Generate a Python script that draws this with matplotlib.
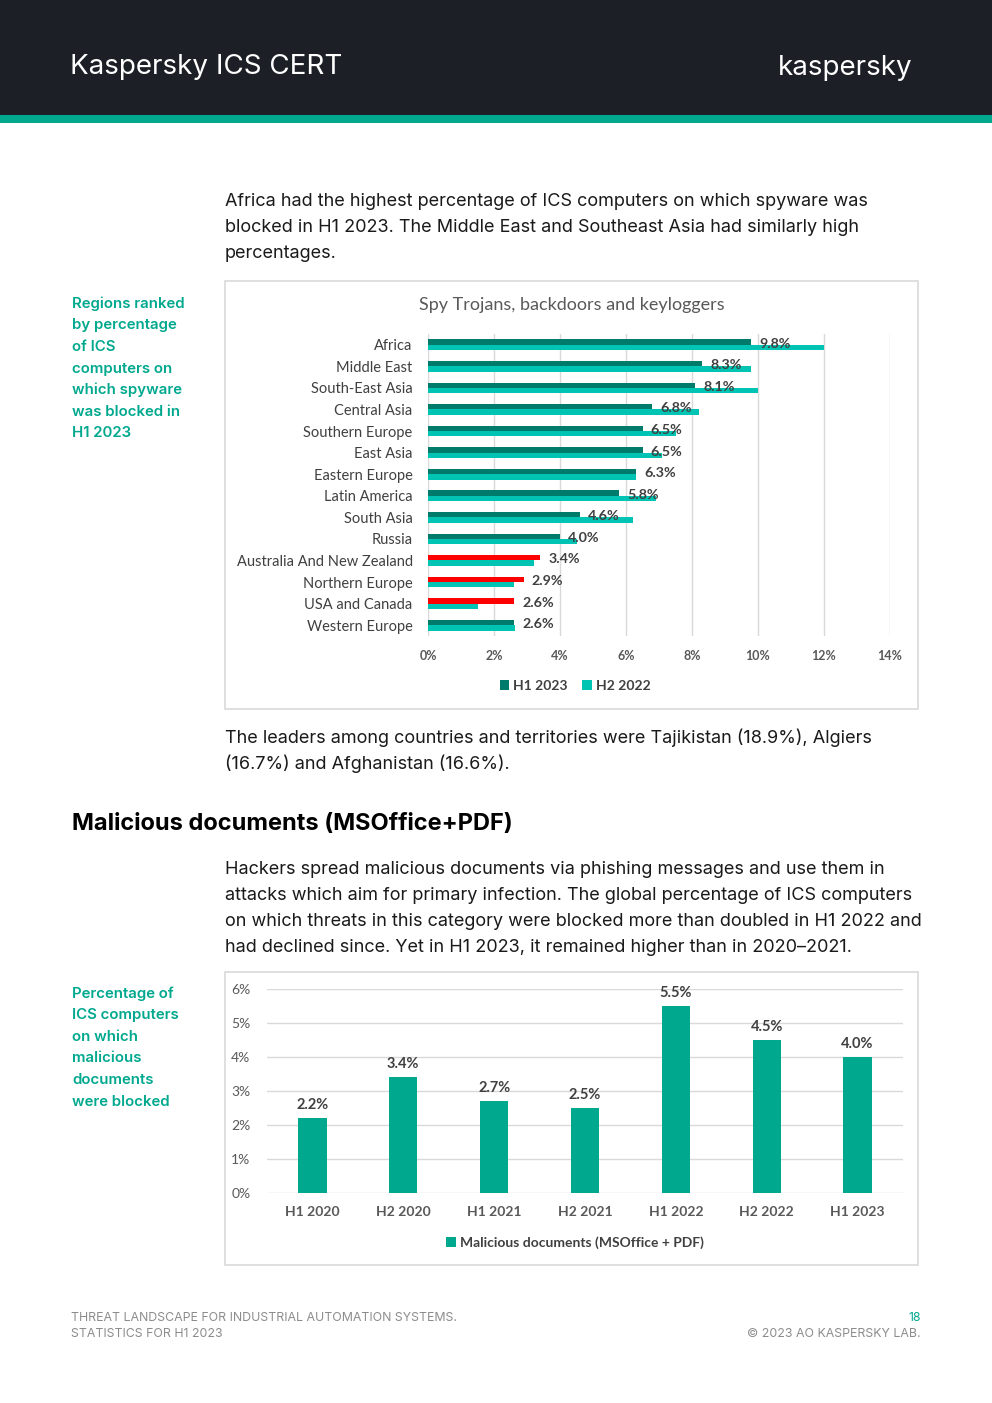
import numpy as np
import matplotlib
matplotlib.use("Agg")
import matplotlib.pyplot as plt
from matplotlib.patches import Rectangle

W, H = 992, 1403

# spyware by region, %
regions = ["Africa", "Middle East", "South-East Asia", "Central Asia", "Southern Europe",
           "East Asia", "Eastern Europe", "Latin America", "South Asia", "Russia",
           "Australia And New Zealand", "Northern Europe", "USA and Canada", "Western Europe"]
h1_2023 = [9.8, 8.3, 8.1, 6.8, 6.5, 6.5, 6.3, 5.8, 4.6, 4.0, 3.4, 2.9, 2.6, 2.6]
h2_2022 = [12.0, 9.8, 10.0, 8.2, 7.5, 7.1, 6.3, 6.9, 6.2, 4.5, 3.2, 2.6, 1.5, 2.65]
red_regions = ["Australia And New Zealand", "Northern Europe", "USA and Canada"]

# malicious documents, %
periods = ["H1 2020", "H2 2020", "H1 2021", "H2 2021", "H1 2022", "H2 2022", "H1 2023"]
docs = [2.2, 3.4, 2.7, 2.5, 5.5, 4.5, 4.0]

teal_dark = "#007A6B"
teal_light = "#00C4B3"
teal = "#00A88E"
brand = "#00A88E"
grid_c = "#d9d9d9"
lab_c = "#404040"

fig = plt.figure(figsize=(W / 100, H / 100), dpi=100)
fig.patch.set_facecolor("white")


def fx(x):
    return x / W


def fy(y):
    return 1 - y / H


def txt(x, y, s, **kw):
    kw.setdefault("va", "center")
    kw.setdefault("family", "Inter")
    fig.text(fx(x), fy(y), s, **kw)


def axes_px(left, top, right, bottom):
    return fig.add_axes([fx(left), fy(bottom), (right - left) / W, (bottom - top) / H])


# header
fig.patches.append(Rectangle((0, fy(115)), 1, 115 / H, transform=fig.transFigure,
                             facecolor="#1d1f26", edgecolor="none", zorder=0))
fig.patches.append(Rectangle((0, fy(123)), 1, 8 / H, transform=fig.transFigure,
                             facecolor=brand, edgecolor="none", zorder=0))
txt(70, 67, "Kaspersky ICS CERT", color="white", fontsize=20)
txt(913, 68, "kaspersky", color="white", fontsize=20, ha="right")

# paragraph 1
body = dict(fontsize=13, color="#1a1a1a")
txt(225, 202, "Africa had the highest percentage of ICS computers on which spyware was", **body)
txt(225, 228, "blocked in H1 2023. The Middle East and Southeast Asia had similarly high", **body)
txt(225, 254, "percentages.", **body)

side = dict(fontsize=10.8, color=brand, weight="semibold")
for i, s in enumerate(["Regions ranked", "by percentage", "of ICS", "computers on",
                       "which spyware", "was blocked in", "H1 2023"]):
    txt(72, 304 + i * 21.5, s, **side)

# chart 1 box
fig.patches.append(Rectangle((fx(225), fy(709)), 693 / W, 428 / H, transform=fig.transFigure,
                             facecolor="none", edgecolor=grid_c, lw=1.2))
txt(572, 305, "Spy Trojans, backdoors and keyloggers", family="Lato", fontsize=13,
    color="#595959", ha="center")

ax1 = axes_px(428, 334, 890, 636)
y = np.arange(len(regions))
c1 = [("#FF0000" if r in red_regions else teal_dark) for r in regions]
b1 = ax1.barh(y - 0.125, h1_2023, height=0.25, color=c1, label="H1 2023", zorder=3)
b2 = ax1.barh(y + 0.125, h2_2022, height=0.25, color=teal_light, label="H2 2022", zorder=2)
for yi, v in zip(y, h1_2023):
    ax1.text(v + 0.25, yi - 0.05, f"{v:.1f}%", va="center", ha="left", family="Lato",
             fontsize=10.3, weight="bold", color=lab_c, zorder=4)
ax1.set_xlim(0, 14)
ax1.set_ylim(13.5, -0.5)
ax1.set_xticks(np.arange(0, 15, 2))
ax1.set_xticklabels([f"{t}%" for t in range(0, 15, 2)], family="Lato", fontsize=9,
                    weight="bold", color="#595959")
ax1.set_yticks(y)
ax1.set_yticklabels(regions, family="Lato", fontsize=10.5, color=lab_c)
ax1.tick_params(length=0)
ax1.tick_params(axis="x", pad=10)
ax1.tick_params(axis="y", pad=11)
ax1.grid(axis="x", color=grid_c, lw=1, zorder=0)
for sp in ax1.spines.values():
    sp.set_visible(False)
leg1 = ax1.legend(handles=[b1[0], b2], labels=["H1 2023", "H2 2022"], loc="center",
                  bbox_to_anchor=(fx(575), fy(686)), bbox_transform=fig.transFigure,
                  ncol=2, frameon=False, handlelength=0.7, handleheight=0.7,
                  handletextpad=0.3, columnspacing=1.0,
                  prop=dict(family="Lato", size=10, weight="bold"))
for t in leg1.get_texts():
    t.set_color(lab_c)

txt(225, 738, "The leaders among countries and territories were Tajikistan (18.9%), Algiers", **body)
txt(225, 764, "(16.7%) and Afghanistan (16.6%).", **body)

txt(72, 824, "Malicious documents (MSOffice+PDF)", fontsize=17, weight="bold", color="black")

for i, s in enumerate(["Hackers spread malicious documents via phishing messages and use them in",
                       "attacks which aim for primary infection. The global percentage of ICS computers",
                       "on which threats in this category were blocked more than doubled in H1 2022 and",
                       "had declined since. Yet in H1 2023, it remained higher than in 2020\u20132021."]):
    txt(225, 870 + i * 26, s, **body)

for i, s in enumerate(["Percentage of", "ICS computers", "on which", "malicious",
                       "documents", "were blocked"]):
    txt(72, 994 + i * 21.5, s, **side)

# chart 2 box
fig.patches.append(Rectangle((fx(225), fy(1265)), 693 / W, 293 / H, transform=fig.transFigure,
                             facecolor="none", edgecolor=grid_c, lw=1.2))
ax2 = axes_px(267, 989, 903, 1193)
x = np.arange(len(periods))
b3 = ax2.bar(x, docs, width=0.31, color=teal, zorder=3)
for xi, v in zip(x, docs):
    ax2.text(xi, v + 0.18, f"{v:.1f}%", ha="center", va="bottom", family="Lato",
             fontsize=10.5, weight="bold", color=lab_c)
ax2.set_xlim(-0.5, len(periods) - 0.5)
ax2.set_ylim(0, 6)
ax2.set_yticks(range(7))
ax2.set_yticklabels([f"{t}%" for t in range(7)], family="Lato", fontsize=10, color="#595959")
ax2.set_xticks(x)
ax2.set_xticklabels(periods, family="Lato", fontsize=10, weight="bold", color="#595959")
ax2.tick_params(length=0)
ax2.tick_params(axis="x", pad=9)
ax2.tick_params(axis="y", pad=12)
ax2.grid(axis="y", color=grid_c, lw=1, zorder=0)
for sp in ax2.spines.values():
    sp.set_visible(False)
leg2 = ax2.legend(handles=[b3], labels=["Malicious documents (MSOffice + PDF)"], loc="center",
                  bbox_to_anchor=(fx(575), fy(1243)), bbox_transform=fig.transFigure,
                  frameon=False, handlelength=0.7, handleheight=0.7, handletextpad=0.3,
                  prop=dict(family="Lato", size=10, weight="bold"))
for t in leg2.get_texts():
    t.set_color(lab_c)

# footer
foot = dict(fontsize=8.9, color="#8c8c8c")
txt(71, 1318, "THREAT LANDSCAPE FOR INDUSTRIAL AUTOMATION SYSTEMS.", **foot)
txt(71, 1334, "STATISTICS FOR H1 2023", **foot)
txt(921, 1318, "18", fontsize=8.9, color=brand, ha="right")
txt(921, 1334, "\u00a9 2023 AO KASPERSKY LAB.", ha="right", **foot)

fig.savefig("out.png", dpi=100)
